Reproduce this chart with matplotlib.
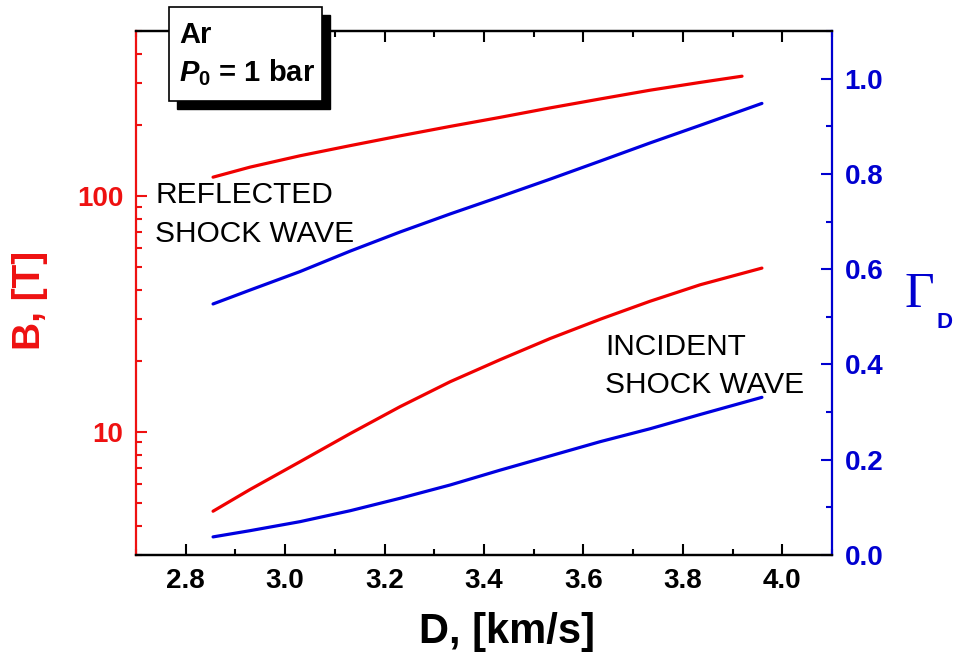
import matplotlib
matplotlib.use("Agg")
import matplotlib.pyplot as plt
from matplotlib.patches import Rectangle
from matplotlib.ticker import MultipleLocator, LogLocator, NullFormatter, FixedLocator, FixedFormatter

plt.rcParams['font.family'] = ['Liberation Sans', 'DejaVu Sans']
plt.rcParams['mathtext.fontset'] = 'custom'
plt.rcParams['mathtext.it'] = 'Liberation Sans:bold:italic'
plt.rcParams['mathtext.rm'] = 'Liberation Sans:bold'
plt.rcParams['mathtext.bf'] = 'Liberation Sans:bold'

# ---- data ----
D_refl_B = [2.855, 2.929, 3.030, 3.131, 3.231, 3.332, 3.432, 3.533, 3.634, 3.734, 3.835, 3.919]
B_refl = [120, 132.3, 147.9, 163.3, 179.6, 197.0, 215.1, 236.0, 257.6, 280.5, 302.7, 321.6]

D_inc_B = [2.855, 2.929, 3.030, 3.131, 3.231, 3.332, 3.432, 3.533, 3.634, 3.734, 3.835, 3.959]
B_inc = [4.60, 5.68, 7.46, 9.82, 12.76, 16.29, 20.18, 24.83, 29.99, 35.73, 41.98, 49.39]

D_gamma = [2.855, 2.929, 3.030, 3.131, 3.231, 3.332, 3.432, 3.533, 3.634, 3.734, 3.835, 3.959]
G_refl = [0.527, 0.556, 0.595, 0.638, 0.678, 0.716, 0.752, 0.789, 0.827, 0.865, 0.902, 0.948]
G_inc = [0.038, 0.051, 0.070, 0.093, 0.119, 0.147, 0.178, 0.208, 0.238, 0.265, 0.295, 0.331]

x_ticks = [2.8, 3.0, 3.2, 3.4, 3.6, 3.8, 4.0]
x_ticklabels = ["2.8", "3.0", "3.2", "3.4", "3.6", "3.8", "4.0"]
left_ticks = [10, 100]
left_ticklabels = ["10", "100"]
right_ticks = [0.0, 0.2, 0.4, 0.6, 0.8, 1.0]
right_ticklabels = ["0.0", "0.2", "0.4", "0.6", "0.8", "1.0"]

RED = '#ee1111'
LINE_RED = '#f00000'
BLUE = '#0000d0'
LINE_BLUE = '#0000e0'
W, H = 957, 657

fig = plt.figure(figsize=(W / 100, H / 100), dpi=100)
ax = fig.add_axes([136 / W, 1 - 555 / H, (832 - 136) / W, (555 - 31) / H])
ax2 = ax.twinx()

ax.plot(D_refl_B, B_refl, color=LINE_RED, lw=2.3, solid_capstyle='round')
ax.plot(D_inc_B, B_inc, color=LINE_RED, lw=2.3, solid_capstyle='round')
ax2.plot(D_gamma, G_refl, color=LINE_BLUE, lw=2.3, solid_capstyle='round')
ax2.plot(D_gamma, G_inc, color=LINE_BLUE, lw=2.3, solid_capstyle='round')

ax.set_xlim(2.7, 4.1)
ax.set_yscale('log')
ax.set_ylim(3, 500)
ax2.set_ylim(0, 1.1)

# x ticks
ax.xaxis.set_major_locator(FixedLocator(x_ticks))
ax.xaxis.set_major_formatter(FixedFormatter(x_ticklabels))
ax.xaxis.set_minor_locator(MultipleLocator(0.1))
# left log ticks
ax.yaxis.set_major_locator(FixedLocator(left_ticks))
ax.yaxis.set_major_formatter(FixedFormatter(left_ticklabels))
ax.yaxis.set_minor_locator(LogLocator(base=10, subs=range(2, 10)))
ax.yaxis.set_minor_formatter(NullFormatter())
# right ticks
ax2.yaxis.set_major_locator(FixedLocator(right_ticks))
ax2.yaxis.set_major_formatter(FixedFormatter(right_ticklabels))
ax2.yaxis.set_minor_locator(MultipleLocator(0.1))

for a in (ax, ax2):
    for s in a.spines.values():
        s.set_linewidth(1.6)
ax.spines['left'].set_color(RED)
ax.spines['right'].set_visible(False)
ax.spines['bottom'].set_color('black')
ax.spines['top'].set_color('black')
ax2.spines['right'].set_color(BLUE)
ax2.spines['left'].set_visible(False)
ax2.spines['top'].set_color('black')
ax2.spines['bottom'].set_color('black')

ax.tick_params(axis='x', which='both', direction='in', top=True, bottom=True,
               colors='black', width=1.5)
ax.tick_params(axis='x', which='major', length=8, pad=9, labelsize=20)
ax.tick_params(axis='x', which='minor', length=4.5)
ax.tick_params(axis='y', which='both', direction='in', left=True, right=False,
               colors=RED, width=1.5)
ax.tick_params(axis='y', which='major', length=8, pad=9, labelsize=20)
ax.tick_params(axis='y', which='minor', length=4.5)
ax2.tick_params(axis='y', which='both', direction='in', right=True, left=False,
                colors=BLUE, width=1.5)
ax2.tick_params(axis='y', which='major', length=8, pad=9, labelsize=20)
ax2.tick_params(axis='y', which='minor', length=4.5)

for lab in ax.get_xticklabels() + ax.get_yticklabels() + ax2.get_yticklabels():
    lab.set_fontweight('bold')

# axis labels
fig.text(30 / W, 1 - 300 / H, 'B, [T]', rotation=90, color=RED, fontsize=28,
         fontweight='bold', ha='center', va='center')
fig.text(507 / W, 1 - 632 / H, 'D, [km/s]', color='black', fontsize=30,
         fontweight='bold', ha='center', va='center')
fig.text(904 / W, 1 - 307 / H, '\u0393', family='Liberation Serif', color=BLUE,
         fontsize=37, ha='left', va='baseline')
fig.text(937 / W, 1 - 328 / H, 'D', color=BLUE, fontsize=16, fontweight='bold',
         ha='left', va='baseline')

# annotations
fig.text(155 / W, 1 - 181 / H, 'REFLECTED\nSHOCK WAVE', fontsize=21.5,
         ha='left', va='top', linespacing=1.5)
fig.text(605 / W, 1 - 333 / H, 'INCIDENT\nSHOCK WAVE', fontsize=21.5,
         ha='left', va='top', linespacing=1.45)

# label box with shadow
fig.add_artist(Rectangle((177 / W, 1 - 109 / H), 153 / W, 94 / H,
                         transform=fig.transFigure, facecolor='black',
                         edgecolor='black', zorder=5))
fig.add_artist(Rectangle((169 / W, 1 - 101 / H), 153 / W, 94 / H,
                         transform=fig.transFigure, facecolor='white',
                         edgecolor='black', lw=1.2, zorder=6))
fig.text(179 / W, 1 - 43 / H, 'Ar', fontsize=21, fontweight='bold',
         ha='left', va='baseline', zorder=7)
fig.text(179 / W, 1 - 81 / H, r'$P_{0}$ = 1 bar', fontsize=21, fontweight='bold',
         ha='left', va='baseline', zorder=7)

fig.savefig('out.png', dpi=100)
